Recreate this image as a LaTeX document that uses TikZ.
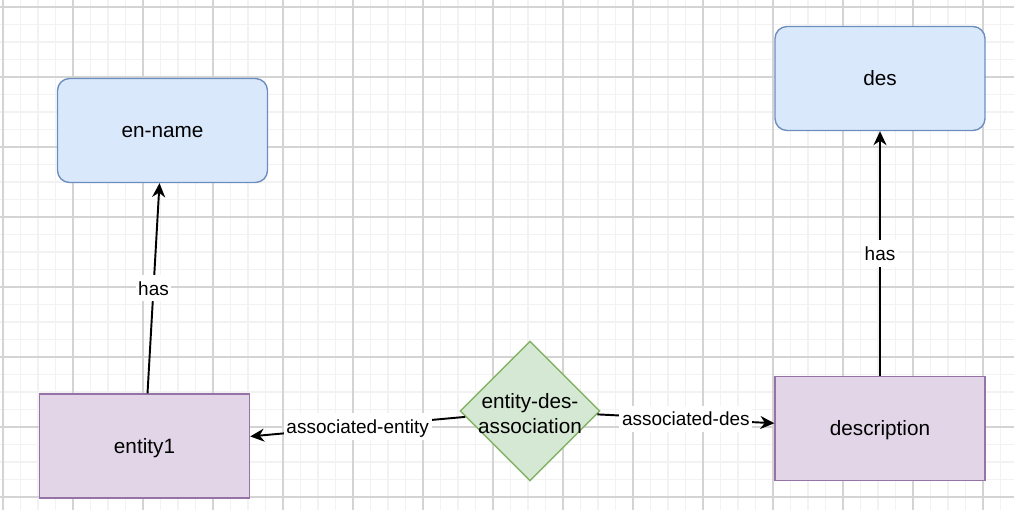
\documentclass[tikz,border=0pt]{standalone}
\usepackage{fontspec}
\setmainfont{Liberation Sans}
\usetikzlibrary{shapes.geometric, arrows.meta}
\definecolor{attrfill}{HTML}{DAE8FC}
\definecolor{attrline}{HTML}{6C8EBF}
\definecolor{entfill}{HTML}{E1D5E7}
\definecolor{entline}{HTML}{9673A6}
\definecolor{relfill}{HTML}{D5E8D4}
\definecolor{relline}{HTML}{82B366}
\definecolor{gridmajor}{HTML}{D4D4D4}
\definecolor{gridminor}{HTML}{F2F2F2}

\begin{document}
\begin{tikzpicture}[x=0.02cm, y=-0.02cm,
  boxfont/.style={font=\fontsize{11.8pt}{14.2pt}\selectfont},
  attrbox/.style={draw=attrline, fill=attrfill, rounded corners=0.24cm, line width=0.8pt, minimum width=4.2cm, minimum height=2.08cm, text height=1em, text depth=0.2em, boxfont},
  entbox/.style={draw=entline, fill=entfill, line width=0.8pt, minimum width=4.2cm, minimum height=2.08cm, text height=1em, text depth=0.2em, boxfont},
  relnode/.style={diamond, draw=relline, fill=relfill, line width=0.8pt, minimum width=2.8cm, minimum height=2.8cm, inner sep=0pt},
  link/.style={-{Stealth[length=0.28cm, width=0.26cm, inset=0.09cm]}, line width=1.1pt},
  lbl/.style={fill=white, inner sep=1.5pt, text height=1em, text depth=0.2em, font=\fontsize{10.8pt}{13pt}\selectfont}]

  \useasboundingbox (0,0) rectangle (1014,510);

  % Grid
  \begin{scope}
    \clip (0,0) rectangle (1014,510);
    \foreach \i in {0,...,57} \draw[gridminor, line width=0.6pt] ({3+17.5*\i},0) -- ({3+17.5*\i},510);
    \foreach \j in {0,...,28} \draw[gridminor, line width=0.6pt] (0,{7+17.5*\j}) -- (1014,{7+17.5*\j});
    \foreach \i in {0,...,14} \draw[gridmajor, line width=0.6pt] ({3+70*\i},0) -- ({3+70*\i},510);
    \foreach \j in {0,...,7} \draw[gridmajor, line width=0.6pt] (0,{7+70*\j}) -- (1014,{7+70*\j});
  \end{scope}

  % Attributes
  \node[attrbox] (enname) at (162.5, 130.5) {en-name};
  \node[attrbox] (des) at (880, 78.5) {des};

  % Entities
  \node[entbox] (ent1) at (144.5, 446) {entity1};
  \node[entbox] (descr) at (880, 428.5) {description};

  % Relationship
  \node[relnode, label={[boxfont, align=center, yshift=-1.5pt]center:entity-des-\\association}] (assoc) at (530, 411) {};

  \draw[link] (ent1) -- node[lbl] {has} (enname);
  \draw[link] (descr) -- node[lbl] {has} (des);
  \draw[link] (assoc) -- node[lbl] {associated-entity} (ent1);
  \draw[link] (assoc) -- node[lbl] {associated-des} (descr);
\end{tikzpicture}
\end{document}
